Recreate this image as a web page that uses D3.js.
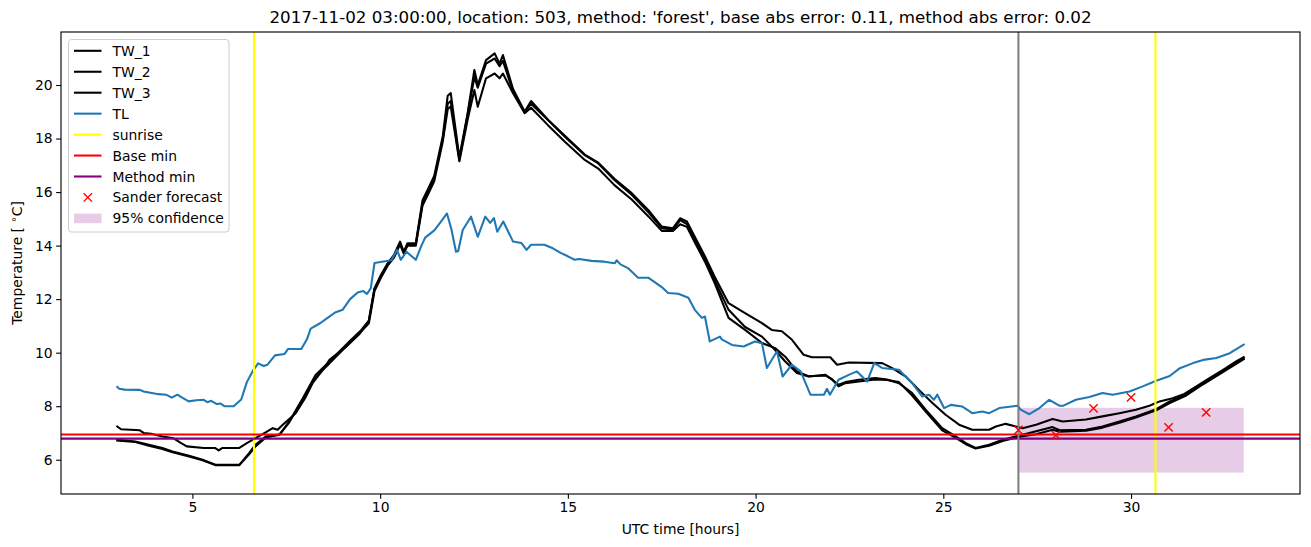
<!DOCTYPE html>
<html><head><meta charset="utf-8">
<script src="https://cdn.jsdelivr.net/npm/d3@7"></script>
<style>body{margin:0;background:#fff}svg{display:block;font-family:"DejaVu Sans",sans-serif}</style>
</head><body><svg id="c" width="1311" height="547"></svg>
<script>
const titleText = "2017-11-02 03:00:00, location: 503, method: 'forest', base abs error: 0.11, method abs error: 0.02";
const xTicks = [5, 10, 15, 20, 25, 30];
const yTicks = [6, 8, 10, 12, 14, 16, 18, 20];

const tw1Hours = [3.0,3.1,3.6,3.7,3.9,4.2,4.5,4.7,4.85,5.3,5.6,5.7,5.8,6.25,6.45,6.68,6.95,7.14,7.27,7.4,7.75,8.0,8.2,8.5,8.65,9.1,9.45,9.7,9.85,10.02,10.2,10.37,10.53,10.63,10.73,10.95,11.13,11.27,11.44,11.67,11.8,11.88,12.11,12.33,12.51,12.6,12.82,13.05,13.18,13.27,13.54,13.85,14.02,14.47,14.92,15.45,15.81,16.24,16.7,17.14,17.5,17.8,17.99,18.17,18.39,18.65,18.91,19.28,19.72,20.17,20.43,20.7,20.97,21.28,21.5,21.99,22.17,22.48,23.37,23.64,24.0,24.35,24.71,25.06,25.42,25.77,26.22,26.4,26.66,27.11,27.47,27.91,28.18,28.8,29.24,29.69,30.13,30.49,30.76,31.11,31.42,31.74,32.09,32.45,32.8,33.0];
const tw1Temps = [7.24,7.14,7.1,7.0,6.97,6.87,6.8,6.62,6.5,6.44,6.44,6.35,6.44,6.44,6.62,6.81,7.02,7.18,7.12,7.3,7.74,8.3,8.86,9.4,9.73,10.23,10.7,11.2,12.4,12.9,13.34,13.65,14.15,13.77,14.09,14.09,15.7,16.1,16.6,18.1,19.6,19.7,17.3,18.94,20.56,20.0,20.93,21.18,20.8,21.12,19.85,19.0,19.4,18.7,18.1,17.4,17.1,16.5,15.96,15.33,14.71,14.65,15.02,14.9,14.3,13.6,12.84,11.85,11.48,11.1,10.85,10.8,10.48,9.92,9.83,9.83,9.55,9.63,9.61,9.42,9.11,8.61,8.12,7.68,7.31,7.12,7.12,7.24,7.34,7.18,7.31,7.52,7.43,7.5,7.62,7.74,7.87,8.02,8.18,8.3,8.46,8.74,9.05,9.36,9.67,9.83];

const twLowHours = [3.0,3.48,3.84,4.2,4.47,4.91,5.27,5.61,6.25,6.51,6.68,6.95,7.32,7.58,7.94,8.28,8.65,9.18,9.5,9.7,9.85,10.02,10.2,10.37,10.53,10.63,10.73,10.95,11.13,11.27,11.44,11.67,11.8,11.88,12.11,12.33,12.51,12.6,12.82,13.05,13.18,13.27,13.54,13.85,14.02,14.47,14.92,15.45,15.81,16.24,16.7,17.14,17.5,17.8,17.99,18.17,18.39,18.65,18.91,19.28,19.72,20.17,20.52,20.79,21.1,21.41,21.86,22.04,22.21,22.39,22.75,23.19,23.5,23.82,24.17,24.53,24.97,25.33,25.6,25.86,26.22,26.58,27.11,27.47,27.91,28.1,28.8,29.24,29.69,30.13,30.67,31.03,31.47,31.92,32.36,32.8,33.0];
const tw2Temps = [6.75,6.68,6.56,6.44,6.31,6.15,6.0,5.81,5.81,6.25,6.56,6.87,6.93,7.43,8.3,9.17,9.67,10.42,10.85,11.2,12.4,12.84,13.3,13.6,14.1,13.75,14.05,14.05,15.6,16.0,16.5,18.0,19.3,19.4,17.2,18.9,20.3,19.9,20.8,20.99,20.7,20.9,19.75,19.0,19.3,18.69,18.07,17.38,17.07,16.45,15.9,15.25,14.65,14.6,14.95,14.8,14.2,13.5,12.7,11.6,10.96,10.6,10.1,9.67,9.24,9.11,9.17,8.99,8.8,8.9,8.99,9.05,9.0,8.86,8.49,7.87,7.18,6.87,6.62,6.44,6.56,6.75,6.93,7.06,7.22,7.1,7.12,7.24,7.43,7.62,7.89,8.18,8.43,8.86,9.24,9.61,9.8];
const tw3Temps = [6.72,6.66,6.52,6.4,6.28,6.12,5.98,5.8,5.8,6.2,6.5,6.82,6.95,7.4,8.25,9.1,9.6,10.35,10.8,11.1,12.3,12.8,13.25,13.55,14.05,13.7,14.0,14.0,15.5,15.9,16.4,17.9,19.1,19.2,17.15,18.7,19.81,19.19,20.25,20.43,20.25,20.43,19.69,18.95,19.15,18.5,17.88,17.2,16.88,16.26,15.72,15.1,14.55,14.55,14.8,14.7,14.1,13.4,12.6,11.3,10.85,10.36,10.17,9.85,9.3,9.12,9.15,9.0,8.74,8.86,8.92,9.0,8.98,8.9,8.4,7.8,7.1,6.82,6.58,6.42,6.52,6.7,6.88,6.95,7.12,7.05,7.08,7.2,7.38,7.58,7.85,8.12,8.4,8.82,9.2,9.58,9.76];

const tlHours = [3.0,3.05,3.2,3.6,3.7,4.1,4.3,4.45,4.6,4.75,4.9,5.1,5.3,5.4,5.5,5.65,5.75,5.85,6.1,6.3,6.45,6.6,6.75,6.9,7.0,7.2,7.45,7.55,7.9,8.05,8.15,8.4,8.6,8.8,9.0,9.2,9.4,9.55,9.65,9.75,9.85,10.05,10.3,10.45,10.55,10.7,10.95,11.1,11.2,11.45,11.62,11.78,11.9,12.02,12.08,12.2,12.42,12.6,12.8,12.93,13.03,13.12,13.28,13.54,13.76,13.9,14.02,14.37,14.6,14.82,15.0,15.18,15.3,15.63,15.97,16.25,16.3,16.4,16.6,16.87,17.14,17.35,17.5,17.67,17.94,18.21,18.38,18.57,18.65,18.78,19.05,19.1,19.37,19.68,19.98,20.17,20.3,20.57,20.72,20.97,21.2,21.46,21.82,21.9,21.98,22.21,22.48,22.7,22.97,23.16,23.37,23.82,24.0,24.17,24.44,24.62,24.75,24.84,25.02,25.2,25.5,25.77,26.04,26.22,26.49,26.98,27.06,27.29,27.56,27.82,28.09,28.2,28.53,28.89,29.24,29.51,29.96,30.31,30.67,31.03,31.3,31.65,31.92,32.27,32.63,33.0];
const tlTemps = [8.72,8.65,8.62,8.61,8.55,8.45,8.43,8.32,8.43,8.3,8.18,8.22,8.24,8.15,8.2,8.08,8.1,8.0,8.0,8.25,8.9,9.3,9.6,9.5,9.55,9.9,9.95,10.14,10.14,10.5,10.9,11.1,11.3,11.5,11.6,12.0,12.25,12.3,12.2,12.4,13.35,13.4,13.45,13.84,13.47,13.77,13.47,14.0,14.3,14.58,14.9,15.2,14.6,13.77,13.8,14.58,15.08,14.33,15.08,14.85,15.03,14.52,14.9,14.15,14.1,13.84,14.03,14.03,13.9,13.72,13.6,13.47,13.5,13.43,13.4,13.34,13.45,13.3,13.16,12.8,12.8,12.6,12.45,12.23,12.2,12.05,11.6,11.3,11.35,10.42,10.6,10.5,10.29,10.23,10.42,10.35,9.43,10.05,9.11,9.55,9.3,8.43,8.43,8.65,8.43,8.99,9.17,9.3,8.92,9.61,9.43,9.36,9.1,8.86,8.36,8.43,8.24,8.43,7.93,8.05,7.99,7.74,7.8,7.74,7.93,8.02,7.87,7.7,7.93,8.24,8.02,8.02,8.24,8.34,8.49,8.43,8.55,8.74,8.95,9.13,9.42,9.61,9.73,9.8,9.98,10.3];

const sunriseHours = [6.64, 30.65];
const forecastStartHour = 27;
const baseMin = 6.945;
const methodMin = 6.79;
const forecastHours = [27, 28, 29, 30, 31, 32];
const forecastTemps = [7.11, 6.92, 7.92, 8.33, 7.21, 7.77];
const confidenceHours = [27, 33];
const confidenceLow = 5.52;
const confidenceHigh = 7.94;

const M = {left: 61, right: 1300, top: 32, bottom: 494};
const LW = 2.08;
const svg = d3.select("#c");
const x = d3.scaleLinear().domain([1.5, 34.5]).range([M.left, M.right]);
const y = d3.scaleLinear().domain([4.72, 21.98]).range([M.bottom, M.top]);

const zip = (hs, ts) => hs.slice(0, Math.min(hs.length, ts.length)).map((h, i) => [h, ts[i]]);
const line = d3.line().x(d => x(d[0])).y(d => y(d[1]));

// confidence band
svg.append("rect").attr("x", x(confidenceHours[0])).attr("width", x(confidenceHours[1]) - x(confidenceHours[0]))
  .attr("y", y(confidenceHigh)).attr("height", y(confidenceLow) - y(confidenceHigh))
  .attr("fill", "purple").attr("fill-opacity", 0.2);

const series = [
  {name: "TW_1", data: zip(tw1Hours, tw1Temps), color: "black"},
  {name: "TW_2", data: zip(twLowHours, tw2Temps), color: "black"},
  {name: "TW_3", data: zip(twLowHours, tw3Temps), color: "black"},
  {name: "TL", data: zip(tlHours, tlTemps), color: "#1f77b4"}
];
series.forEach(s => {
  svg.append("path").attr("d", line(s.data)).attr("fill", "none").attr("stroke", s.color)
    .attr("stroke-width", LW).attr("stroke-linejoin", "round").attr("stroke-linecap", "square");
});

sunriseHours.forEach(h => {
  svg.append("line").attr("x1", x(h)).attr("x2", x(h)).attr("y1", M.top).attr("y2", M.bottom)
    .attr("stroke", "yellow").attr("stroke-width", LW);
});
svg.append("line").attr("x1", M.left).attr("x2", M.right).attr("y1", y(baseMin)).attr("y2", y(baseMin))
  .attr("stroke", "red").attr("stroke-width", LW);
svg.append("line").attr("x1", M.left).attr("x2", M.right).attr("y1", y(methodMin)).attr("y2", y(methodMin))
  .attr("stroke", "purple").attr("stroke-width", LW);
svg.append("line").attr("x1", x(forecastStartHour)).attr("x2", x(forecastStartHour)).attr("y1", M.top).attr("y2", M.bottom)
  .attr("stroke", "gray").attr("stroke-width", LW);

const xm = 4.17;
forecastHours.forEach((h, i) => {
  const cx = x(h), cy = y(forecastTemps[i]);
  svg.append("path").attr("d", `M${cx-xm},${cy-xm}L${cx+xm},${cy+xm}M${cx-xm},${cy+xm}L${cx+xm},${cy-xm}`)
    .attr("stroke", "red").attr("stroke-width", 1.39).attr("fill", "none");
});

// axes
const xAxis = d3.axisBottom(x).tickValues(xTicks).tickSize(4.86).tickPadding(3.5).tickFormat(d3.format("d"));
const yAxis = d3.axisLeft(y).tickValues(yTicks).tickSize(4.86).tickPadding(3.5).tickFormat(d3.format("d"));
const gx = svg.append("g").attr("transform", `translate(0,${M.bottom})`).call(xAxis);
const gy = svg.append("g").attr("transform", `translate(${M.left},0)`).call(yAxis);
[gx, gy].forEach(g => {
  g.select(".domain").remove();
  g.selectAll("line").attr("stroke", "black").attr("stroke-width", 1.11);
  g.selectAll("text").attr("font-size", 13.9).attr("fill", "black").attr("font-family", "DejaVu Sans");
});
svg.append("rect").attr("x", M.left).attr("y", M.top).attr("width", M.right - M.left).attr("height", M.bottom - M.top)
  .attr("fill", "none").attr("stroke", "black").attr("stroke-width", 1.11);

svg.append("text").attr("x", (M.left + M.right) / 2).attr("y", 23).attr("text-anchor", "middle")
  .attr("font-size", 16.7).text(titleText);
svg.append("text").attr("x", (M.left + M.right) / 2).attr("y", 534).attr("text-anchor", "middle")
  .attr("font-size", 13.9).text("UTC time [hours]");
const yl = svg.append("text").attr("transform", `translate(22,${(M.top + M.bottom) / 2}) rotate(-90)`)
  .attr("text-anchor", "middle").attr("font-size", 13.9);
yl.append("tspan").text("Temperature [ ");
yl.append("tspan").text("\u2218").attr("font-size", 10).attr("dy", -5);
yl.append("tspan").text("C]").attr("dy", 5);

// legend
const lg = svg.append("g");
lg.append("rect").attr("x", 68.5).attr("y", 39.5).attr("width", 160.5).attr("height", 192.5).attr("rx", 3)
  .attr("fill", "white").attr("fill-opacity", 0.8).attr("stroke", "#cccccc").attr("stroke-width", 1);
const items = [
  {label: "TW_1", type: "line", color: "black"},
  {label: "TW_2", type: "line", color: "black"},
  {label: "TW_3", type: "line", color: "black"},
  {label: "TL", type: "line", color: "#1f77b4"},
  {label: "sunrise", type: "line", color: "yellow"},
  {label: "Base min", type: "line", color: "red"},
  {label: "Method min", type: "line", color: "purple"},
  {label: "Sander forecast", type: "marker", color: "red"},
  {label: "95% confidence", type: "patch", color: "purple"}
];
items.forEach((it, i) => {
  const cy = 50.8 + i * 20.95;
  if (it.type === "line") {
    lg.append("line").attr("x1", 74).attr("x2", 101.5).attr("y1", cy).attr("y2", cy)
      .attr("stroke", it.color).attr("stroke-width", LW);
  } else if (it.type === "marker") {
    const cx = 87.8;
    lg.append("path").attr("d", `M${cx-xm},${cy-xm}L${cx+xm},${cy+xm}M${cx-xm},${cy+xm}L${cx+xm},${cy-xm}`)
      .attr("stroke", it.color).attr("stroke-width", 1.39);
  } else {
    lg.append("rect").attr("x", 74).attr("y", cy - 4.8).attr("width", 27.5).attr("height", 9.6)
      .attr("fill", it.color).attr("fill-opacity", 0.2);
  }
  lg.append("text").attr("x", 112.5).attr("y", cy + 5).attr("font-size", 13.9).text(it.label);
});
</script></body></html>
